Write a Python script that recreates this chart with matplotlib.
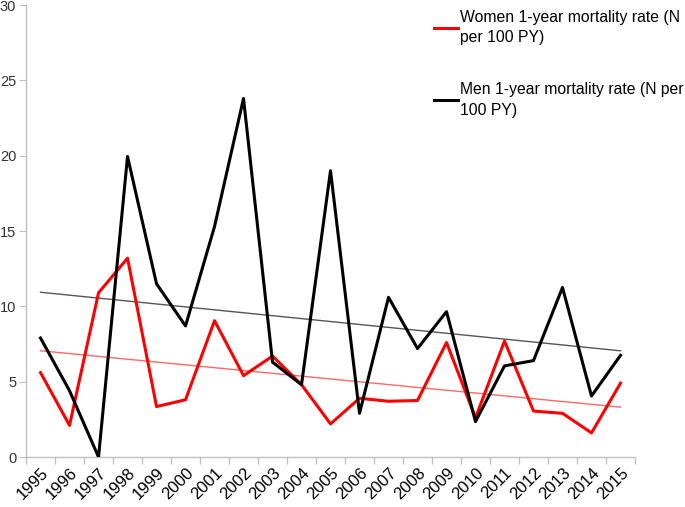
import numpy as np
import matplotlib
matplotlib.use('Agg')
import matplotlib.pyplot as plt

plt.rcParams['font.family'] = ['Liberation Sans', 'DejaVu Sans']

years = [str(y) for y in range(1995, 2016)]
women = [5.6, 2.1, 10.9, 13.2, 3.35, 3.8, 9.05, 5.4, 6.7, 4.8, 2.2,
         3.9, 3.7, 3.75, 7.6, 2.6, 7.7, 3.05, 2.9, 1.6, 4.9]
men = [7.9, 4.4, 0.0, 19.95, 11.5, 8.7, 15.3, 23.8, 6.3, 4.8, 19.0,
       2.9, 10.6, 7.2, 9.65, 2.35, 6.05, 6.4, 11.25, 4.05, 6.75]

x = np.arange(len(years))

fig = plt.figure(figsize=(6.85, 5.07), dpi=100)
ax = fig.add_axes([0.038, 0.0986, 0.889, 0.8914])

# linear trendlines (excel style)
for vals, col, lw in [(women, '#ff6666', 1.0), (men, '#555555', 1.0)]:
    k, b = np.polyfit(x, vals, 1)
    ax.plot(x, k * x + b, color=col, lw=lw, zorder=2)

ax.plot(x, women, color='#ff0000', lw=2.2, label='Women 1-year mortality rate (N\nper 100 PY)', zorder=3)
ax.plot(x, men, color='#000000', lw=2.2, label='Men 1-year mortality rate (N per\n100 PY)', zorder=3)

ax.set_xlim(-0.5, len(years) - 0.5)
ax.set_ylim(0, 30)
ax.set_yticks(range(0, 31, 5))
ax.set_xticks(x)
ax.set_xticklabels(years, rotation=45, ha='right', rotation_mode='anchor', fontsize=12)
ax.set_xticks(np.arange(-0.5, len(years)), minor=True)
ax.tick_params(axis='x', which='major', length=0, pad=6)
ax.tick_params(axis='x', which='minor', length=5, color='#bfbfbf', width=1)
ax.tick_params(axis='y', length=5, color='#bfbfbf', labelsize=10.5, labelcolor='#333333', pad=2)

for s in ['top', 'right']:
    ax.spines[s].set_visible(False)
for s in ['left', 'bottom']:
    ax.spines[s].set_color('#bfbfbf')
    ax.spines[s].set_linewidth(1)

leg = fig.legend(loc='upper left', bbox_to_anchor=(0.624, 0.993), frameon=False,
                 fontsize=11.3, handlelength=1.55, handletextpad=0.12, labelspacing=2.35,
                 borderaxespad=0)
for t in leg.get_texts():
    t.set_linespacing(1.45)

fig.savefig('out.png', dpi=100)
